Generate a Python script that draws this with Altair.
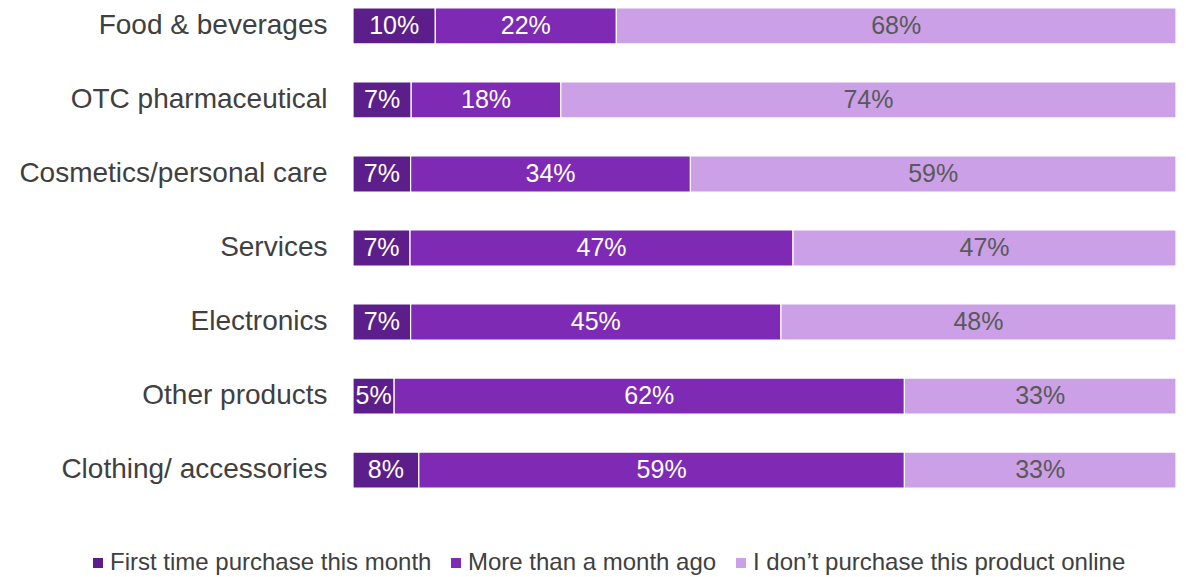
import altair as alt
import pandas as pd

categories = ["Food & beverages", "OTC pharmaceutical", "Cosmetics/personal care",
              "Services", "Electronics", "Other products", "Clothing/ accessories"]
series = ["First time purchase this month", "More than a month ago",
          "I don\u2019t purchase this product online"]
first_time = [10, 7, 7, 7, 7, 5, 8]
more_than_month = [22, 18, 34, 47, 45, 62, 59]
not_online = [68, 74, 59, 47, 48, 33, 33]
colors = ["#5C1E8A", "#7E2AB5", "#CBA0E6"]
label_colors = ["#FFFFFF", "#FFFFFF", "#595959"]

rows = []
for i, cat in enumerate(categories):
    for j, vals in enumerate([first_time, more_than_month, not_online]):
        rows.append({"category": cat, "series": series[j], "order": j,
                     "value": vals[i], "label": f"{vals[i]}%"})
df = pd.DataFrame(rows)

base = alt.Chart(df).transform_stack(
    stack="value", as_=["x0", "x1"], groupby=["category"],
    offset="normalize", sort=[alt.SortField("order", order="ascending")]
).transform_calculate(mid="(datum.x0 + datum.x1) / 2")

y_enc = alt.Y("category:N", sort=categories, title=None,
              scale=alt.Scale(paddingInner=0.514, paddingOuter=0),
              axis=alt.Axis(domain=False, ticks=False, labelPadding=26,
                            labelFontSize=28, labelColor="#404040",
                            labelFont="Liberation Sans", labelLimit=400))

bars = base.mark_bar(stroke="white", strokeWidth=1.2).encode(
    x=alt.X("x0:Q", scale=alt.Scale(domain=[0, 1], nice=False), axis=None),
    x2="x1:Q",
    y=y_enc,
    color=alt.Color("series:N", sort=series,
                    scale=alt.Scale(domain=series, range=colors),
                    legend=alt.Legend(title=None, orient="none", direction="horizontal",
                                      legendX=-267, legendY=543,
                                      symbolType="square", symbolSize=100,
                                      symbolStrokeWidth=0, symbolOpacity=1,
                                      labelFontSize=24, labelColor="#404040",
                                      labelFont="Liberation Sans", labelOffset=0,
                                      columnPadding=12, labelLimit=500, padding=0)),
)

text = base.mark_text(font="Liberation Sans", fontSize=25, baseline="middle",
                      align="center").encode(
    x=alt.X("mid:Q", scale=alt.Scale(domain=[0, 1], nice=False), axis=None),
    y=alt.Y("category:N", sort=categories),
    text="label:N",
    color=alt.Color("series:N", scale=alt.Scale(domain=series, range=label_colors),
                    legend=None),
)

chart = alt.layer(bars, text).resolve_scale(color="independent").properties(
    width=823, height=480,
    autosize=alt.AutoSizeParams(type="none"),
    padding={"left": 345, "top": 0, "right": 2, "bottom": 89},
).configure_view(stroke=None)

chart.save("out.html", embed_options={"renderer": "svg", "actions": False})
